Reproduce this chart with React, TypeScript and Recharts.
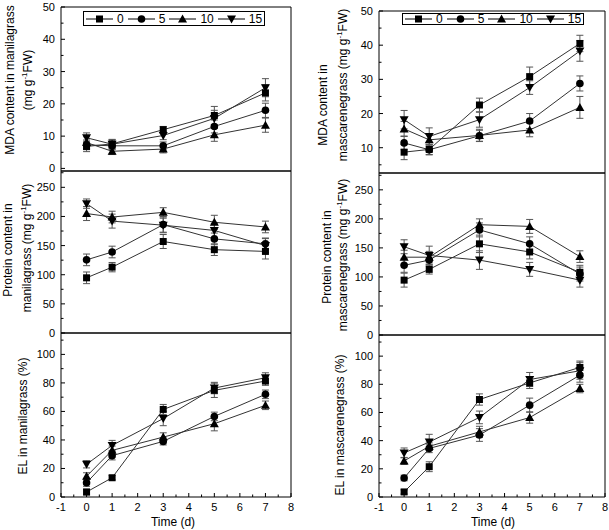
import React from 'react'
import { LineChart, Line, XAxis, YAxis, ErrorBar, ReferenceArea } from 'recharts'

// sampling days and salt groups
const days = [0, 1, 3, 5, 7]
const groups = ['0', '5', '10', '15']
const xTicks = [-1, -0.5, 0, 0.5, 1, 1.5, 2, 2.5, 3, 3.5, 4, 4.5, 5, 5.5, 6, 6.5, 7, 7.5, 8]

// MDA, manilagrass (rows: 0, 5, 10, 15)
const mdaManilaMean = [
  [6.8, 7.6, 12.0, 16.4, 23.4],
  [7.3, 7.0, 7.0, 13.0, 18.0],
  [8.0, 5.3, 6.0, 10.4, 13.4],
  [9.5, 7.5, 10.2, 15.5, 25.0],
]
const mdaManilaErr = [
  [1.6, 1.3, 1.0, 2.8, 2.5],
  [1.5, 1.2, 1.2, 2.0, 2.2],
  [1.8, 1.0, 1.2, 2.0, 2.2],
  [1.5, 1.5, 1.3, 2.5, 2.8],
]
// MDA, mascarenegrass
const mdaMascMean = [
  [8.7, 9.5, 22.5, 30.8, 40.5],
  [11.4, 9.4, 13.5, 17.8, 28.8],
  [15.5, 12.3, 13.6, 15.2, 21.8],
  [18.2, 13.3, 18.2, 27.6, 38.3],
]
const mdaMascErr = [
  [2.2, 1.5, 2.0, 2.8, 2.4],
  [2.0, 1.5, 1.6, 2.2, 2.2],
  [2.2, 1.8, 1.8, 2.0, 3.2],
  [2.7, 2.5, 2.2, 2.0, 3.0],
]
// protein, manilagrass
const protManilaMean = [
  [94.7, 113, 157, 143, 140],
  [125.5, 139, 186, 161.5, 153],
  [205, 199, 207, 190, 182],
  [222, 192, 185, 176, 150],
]
const protManilaErr = [
  [10, 8, 12, 10, 13],
  [10, 10, 14, 10, 10],
  [12, 10, 8, 12, 10],
  [8, 12, 12, 12, 12],
]
// protein, mascarenegrass
const protMascMean = [
  [94.5, 113, 157, 143, 108],
  [120, 129, 181, 157, 105],
  [134, 134, 190, 187, 135],
  [152, 137, 129, 113, 94.5],
]
const protMascErr = [
  [12, 8, 15, 12, 12],
  [12, 10, 12, 12, 12],
  [12, 10, 10, 12, 10],
  [12, 16, 16, 12, 12],
]
// EL, manilagrass
const elManilaMean = [
  [3.5, 13.5, 61.4, 74.8, 81.3],
  [10, 29, 39, 56.5, 72],
  [14.5, 32.7, 42, 51.4, 64.3],
  [22.9, 36.2, 55, 76.4, 83.6],
]
const elManilaErr = [
  [2, 1.5, 3.5, 5, 3],
  [2.5, 3, 2.5, 3, 3],
  [2.5, 3, 3, 5, 3],
  [2.5, 3.5, 5, 4, 3.5],
]
// EL, mascarenegrass
const elMascMean = [
  [3.6, 21.5, 69.2, 81, 92],
  [13.5, 34.5, 44, 65.2, 86.5],
  [25.6, 36, 46.2, 56.4, 77],
  [31.3, 39, 56.5, 83.4, 89.6],
]
const elMascErr = [
  [1.5, 3.5, 4, 4, 4.5],
  [2, 3, 4.5, 5, 5],
  [2.5, 3, 4, 4, 3],
  [3.5, 5.5, 4.5, 5, 6],
]

const mdaTicksLeft = [0, 5, 10, 15, 20, 25, 30, 35, 40, 45, 50]
const mdaTicksRight = [5, 10, 15, 20, 25, 30, 35, 40, 45, 50]
const protTicks = [0, 25, 50, 75, 100, 125, 150, 175, 200, 225, 250, 275]
const elTicks = [0, 10, 20, 30, 40, 50, 60, 70, 80, 90, 100, 110]

const FONT = 'Arial, "Liberation Sans", sans-serif'
const Y_AXIS_W = 40
const TICK_GAP = 6
const M_TOP = 8
const M_RIGHT = 4

const Marker = ({ shape, cx, cy }: any) => {
  if (cx == null || cy == null) return null
  if (shape === 0) return <rect x={cx - 3.5} y={cy - 3.5} width={7} height={7} fill="#000" />
  if (shape === 1) return <circle cx={cx} cy={cy} r={3.8} fill="#000" />
  if (shape === 2) return <path d={`M${cx},${cy - 4.5}L${cx + 4.5},${cy + 3.5}L${cx - 4.5},${cy + 3.5}Z`} fill="#000" />
  return <path d={`M${cx},${cy + 4.5}L${cx + 4.5},${cy - 3.5}L${cx - 4.5},${cy - 3.5}Z`} fill="#000" />
}

const XTick = ({ x, y, payload, showLabel }: any) => {
  const v = payload.value
  const major = Number.isInteger(v)
  const base = y - TICK_GAP
  return (
    <g>
      <line x1={x} x2={x} y1={base} y2={base - (major ? 4 : 2.5)} stroke="#000" strokeWidth={1} />
      {showLabel && major && (
        <text x={x} y={base + 14} textAnchor="middle" fontSize={11} fontFamily={FONT} fill="#000">
          {v}
        </text>
      )}
    </g>
  )
}

const YTick = ({ x, y, payload, step }: any) => {
  const v = payload.value
  const major = Math.abs(v / step - Math.round(v / step)) < 1e-6
  const base = x + TICK_GAP
  return (
    <g>
      <line x1={base} x2={base + (major ? 4 : 2.5)} y1={y} y2={y} stroke="#000" strokeWidth={1} />
      {major && (
        <text x={x} y={y} dy={4} textAnchor="end" fontSize={11} fontFamily={FONT} fill="#000">
          {v}
        </text>
      )}
    </g>
  )
}

const Legend = ({ left, top, height }: any) => (
  <div
    style={{
      position: 'absolute',
      left,
      top,
      height,
      border: '1px solid #000',
      background: '#fff',
      display: 'flex',
      alignItems: 'center',
      fontSize: 12,
      fontFamily: FONT,
      paddingRight: 2,
      boxSizing: 'border-box',
    }}
  >
    {groups.map((g, i) => (
      <div key={g} style={{ display: 'flex', alignItems: 'center' }}>
        <svg width={27} height={10} style={{ marginLeft: i === 0 ? 2 : 4, marginRight: 4 }}>
          <line x1={0} x2={27} y1={5} y2={5} stroke="#000" strokeWidth={1} />
          <Marker shape={i} cx={13.5} cy={5} />
        </svg>
        <span style={{ lineHeight: '12px' }}>{g}</span>
      </div>
    ))}
  </div>
)

const VLabel = ({ cx, cy, children }: any) => (
  <div
    style={{
      position: 'absolute',
      left: cx,
      top: cy,
      transform: 'translate(-50%, -50%) rotate(-90deg)',
      whiteSpace: 'nowrap',
      fontSize: 12,
      fontFamily: FONT,
      lineHeight: '14px',
    }}
  >
    {children}
  </div>
)

const Unit = ({ prefix }: any) => (
  <>
    {prefix}(mg g<span style={{ fontSize: 8, verticalAlign: 'super', lineHeight: 0 }}>-1</span>FW)
  </>
)

function Panel({ means, errs, domain, yTicks, step, plotLeft, plotTop, plotW, plotH, showX }: any) {
  const xH = showX ? 24 : 0
  const mBot = showX ? 0 : 8 // room so the lowest tick label is not clipped
  const rows = days.map((d, i) => {
    const r: any = { day: d }
    groups.forEach((g, k) => {
      r['s' + g] = means[k][i]
      r['e' + g] = errs[k][i]
    })
    return r
  })
  return (
    <div style={{ position: 'absolute', left: plotLeft - Y_AXIS_W, top: plotTop - M_TOP }}>
      <LineChart
        width={Y_AXIS_W + plotW + M_RIGHT}
        height={M_TOP + plotH + xH + mBot}
        data={rows}
        margin={{ top: M_TOP, right: M_RIGHT, left: 0, bottom: mBot }}
      >
        <XAxis
          dataKey="day"
          type="number"
          domain={[-1, 8]}
          ticks={xTicks}
          interval={0}
          height={xH}
          axisLine={false}
          tickLine={false}
          tickSize={0}
          tickMargin={TICK_GAP}
          tick={(p: any) => <XTick {...p} showLabel={showX} />}
        />
        <YAxis
          type="number"
          domain={domain}
          ticks={yTicks}
          interval={0}
          width={Y_AXIS_W}
          axisLine={false}
          tickLine={false}
          tickSize={0}
          tickMargin={TICK_GAP}
          allowDataOverflow
          tick={(p: any) => <YTick {...p} step={step} />}
        />
        <ReferenceArea x1={-1} x2={8} y1={domain[0]} y2={domain[1]} fill="none" stroke="#000" strokeWidth={1} />
        {groups.map((g, k) => (
          <Line
            key={g}
            dataKey={'s' + g}
            stroke="#333"
            strokeWidth={1}
            isAnimationActive={false}
            dot={(p: any) => <Marker key={p.index} shape={k} cx={p.cx} cy={p.cy} />}
            activeDot={false}
          >
            <ErrorBar dataKey={'e' + g} direction="y" width={3.5} stroke="#555" strokeWidth={1} />
          </Line>
        ))}
      </LineChart>
    </div>
  )
}

export default function App() {
  return (
    <div
      style={{
        position: 'absolute',
        left: 0,
        top: 0,
        width: 609,
        height: 530,
        background: '#fff',
        fontFamily: FONT,
        color: '#000',
      }}
    >
      {/* left column: manilagrass */}
      <Panel means={mdaManilaMean} errs={mdaManilaErr} domain={[-0.8, 50]} yTicks={mdaTicksLeft} step={10}
        plotLeft={61} plotTop={7} plotW={230} plotH={164} />
      <Panel means={protManilaMean} errs={protManilaErr} domain={[0, 278]} yTicks={protTicks} step={50}
        plotLeft={61} plotTop={171} plotW={230} plotH={162} />
      <Panel means={elManilaMean} errs={elManilaErr} domain={[0, 115]} yTicks={elTicks} step={20}
        plotLeft={61} plotTop={333} plotW={230} plotH={164} showX />

      {/* right column: mascarenegrass */}
      <Panel means={mdaMascMean} errs={mdaMascErr} domain={[2.6, 50]} yTicks={mdaTicksRight} step={10}
        plotLeft={379} plotTop={11} plotW={226} plotH={162} />
      <Panel means={protMascMean} errs={protMascErr} domain={[0, 279]} yTicks={protTicks} step={50}
        plotLeft={379} plotTop={173} plotW={226} plotH={162} />
      <Panel means={elMascMean} errs={elMascErr} domain={[0, 115]} yTicks={elTicks} step={20}
        plotLeft={379} plotTop={335} plotW={226} plotH={162} showX />

      <Legend left={83} top={11} height={15} />
      <Legend left={402} top={13} height={12} />

      <VLabel cx={10} cy={80}>MDA content in manilagrass</VLabel>
      <VLabel cx={28} cy={80}><Unit prefix="" /></VLabel>
      <VLabel cx={8} cy={250}>Protein content in</VLabel>
      <VLabel cx={27} cy={248}><Unit prefix="manilagrass " /></VLabel>
      <VLabel cx={23} cy={416}>EL in manilagrass (%)</VLabel>

      <VLabel cx={323} cy={105}>MDA content in</VLabel>
      <VLabel cx={343} cy={85}><Unit prefix="mascarenegrass " /></VLabel>
      <VLabel cx={327} cy={257}>Protein content in</VLabel>
      <VLabel cx={343} cy={255}><Unit prefix="mascarenegrass " /></VLabel>
      <VLabel cx={340} cy={425}>EL in mascarenegrass (%)</VLabel>

      <div style={{ position: 'absolute', left: 173, top: 522, transform: 'translate(-50%, -50%)', fontSize: 12, whiteSpace: 'nowrap' }}>
        Time (d)
      </div>
      <div style={{ position: 'absolute', left: 493, top: 522, transform: 'translate(-50%, -50%)', fontSize: 12, whiteSpace: 'nowrap' }}>
        Time (d)
      </div>
    </div>
  )
}
